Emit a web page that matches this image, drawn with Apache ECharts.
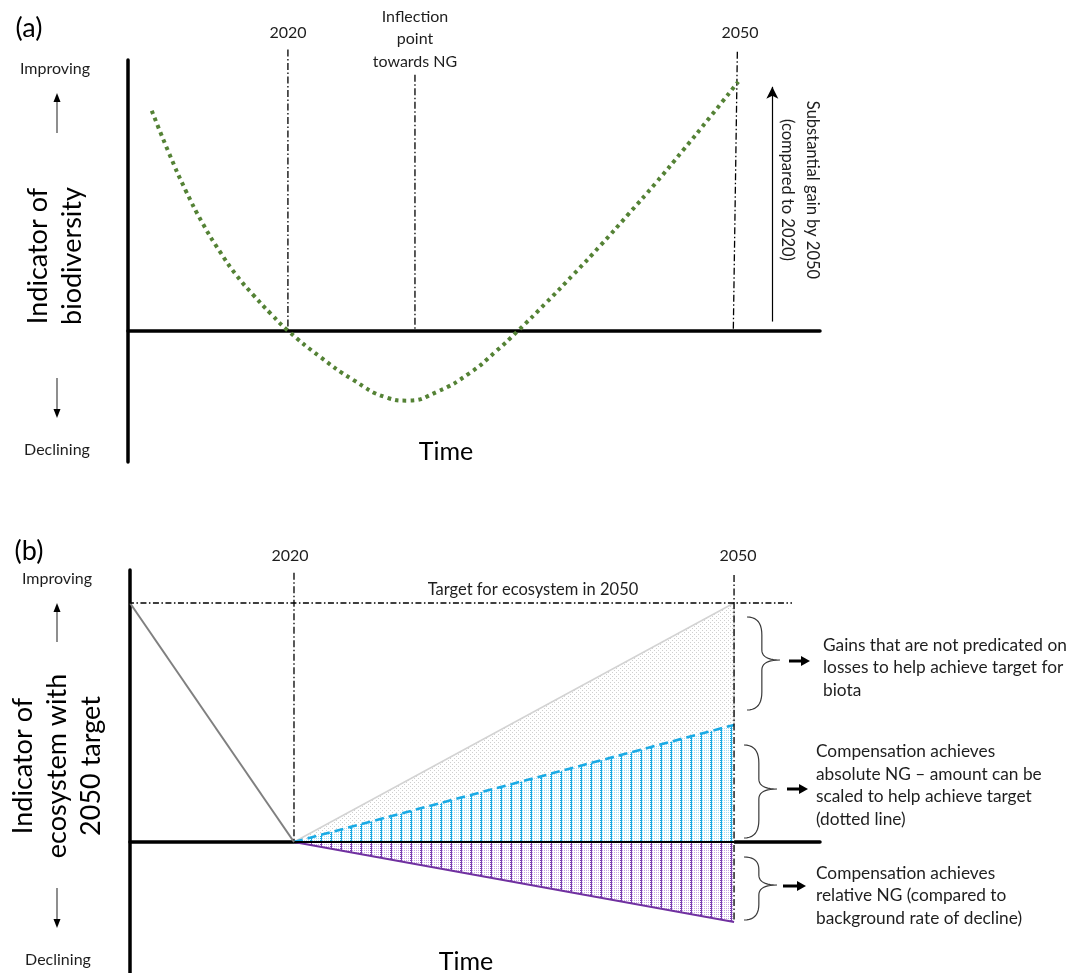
<!DOCTYPE html>
<html><head><meta charset="utf-8">
<script src="https://cdn.jsdelivr.net/npm/echarts@6/dist/echarts.min.js"></script>
<style>html,body{margin:0;padding:0;background:#fff}#c{width:1076px;height:973px}</style>
</head><body><div id="c"></div>
<script>
// ---------- Panel (a): biodiversity indicator trajectory ----------
const curveYears  = [2010.89, 2012.03, 2013.17, 2014.31, 2015.45, 2016.58, 2017.72, 2018.86, 2020.00,
                     2022.14, 2024.35, 2026.63, 2027.97, 2029.98, 2032.19, 2033.86, 2035.40,
                     2037.24, 2039.09, 2040.93, 2042.77, 2044.61, 2046.45, 2048.29, 2050.13];
const curveValues = [8.21, 6.64, 5.22, 3.99, 2.95, 2.05, 1.31, 0.63, 0.00,
                     -0.97, -1.83, -2.50, -2.61, -2.28, -1.57, -0.80, 0.00,
                     1.02, 2.09, 3.19, 4.34, 5.51, 6.74, 8.00, 9.29];
const yearTicksA = ['2020', '2050'];
const inflectionYear = 2028.5;
const inflectionLabel = 'Inflection\npoint\ntowards NG';

// ---------- Panel (b): ecosystem indicator with 2050 target ----------
const yearsB = [2020, 2050];
const historyYears = [2008.82, 2020];
const historyValues = [10, 0];
const targetValue = 10;
const targetGains = [0, 10];        // gains not predicated on losses (to target)
const absoluteNG = [0, 4.9];        // compensation achieves absolute NG
const relativeNG = [0, -3.35];      // compensation achieves relative NG
const yearTicksB = ['2020', '2050'];

const FONT = 'Lato';
const TXT = '#1e1e1e';

function pairs(xs, ys) { return xs.map((x, i) => [x, ys[i]]); }

function makePattern(w, h, draw) {
  const c = document.createElement('canvas'); c.width = w; c.height = h;
  const g = c.getContext('2d'); draw(g); return c;
}
const grayPat = makePattern(4, 4, g => {
  g.fillStyle = '#ffffff'; g.fillRect(0, 0, 4, 4);
  g.fillStyle = '#cfcfcf'; g.fillRect(0, 0, 1, 1); g.fillRect(2, 2, 1, 1);
});
const bluePat = makePattern(10, 4, g => {
  g.fillStyle = '#ffffff'; g.fillRect(0, 0, 10, 4);
  g.fillStyle = '#9fdcf5';
  for (let x = 0; x < 10; x += 2) for (let y = 0; y < 4; y += 2) g.fillRect(x, y, 1, 1);
  g.fillStyle = '#1aa9e2'; g.fillRect(0, 0, 2, 1); g.fillRect(0, 2, 2, 1); g.fillRect(1, 1, 1, 1); g.fillRect(1, 3, 1, 1);
});
const purplePat = makePattern(10, 4, g => {
  g.fillStyle = '#ffffff'; g.fillRect(0, 0, 10, 4);
  g.fillStyle = '#c5a4e2';
  for (let x = 0; x < 10; x += 2) for (let y = 0; y < 4; y += 2) g.fillRect(x, y, 1, 1);
  g.fillStyle = '#7b3fb3'; g.fillRect(0, 0, 2, 1); g.fillRect(0, 2, 2, 1); g.fillRect(1, 1, 1, 1); g.fillRect(1, 3, 1, 1);
});

const DASHDOT = [7, 2.5, 1.5, 2.5];
function refLine(gi, data, extra) {
  return Object.assign({
    type: 'line', xAxisIndex: gi, yAxisIndex: gi, data: data, symbol: 'none', clip: false, silent: true, z: 5,
    lineStyle: { color: '#000', width: 1.3, type: DASHDOT }
  }, extra || {});
}

function txt(x, y, text, size, o) {
  o = o || {};
  return {
    type: 'text', x: x, y: y, rotation: o.rot || 0, silent: true, z: 10,
    style: {
      text: text, x: 0, y: 0, fill: o.fill || TXT, fontSize: size, fontFamily: FONT,
      textAlign: o.align || 'center', align: o.align || 'center',
      textVerticalAlign: 'middle', verticalAlign: 'middle', lineHeight: o.lh || Math.round(size * 1.3)
    }
  };
}
function vArrow(x, yTail, yTip, color) {
  const dir = yTip < yTail ? 1 : -1;
  return [
    { type: 'line', silent: true, z: 10, shape: { x1: x, y1: yTail, x2: x, y2: yTip + dir * 7 }, style: { stroke: color, lineWidth: 1.2 } },
    { type: 'polygon', silent: true, z: 10, shape: { points: [[x, yTip], [x - 3.5, yTip + dir * 9], [x + 3.5, yTip + dir * 9]] }, style: { fill: '#000' } }
  ];
}
function hArrow(x1, x2, y) {
  return [
    { type: 'line', silent: true, z: 10, shape: { x1: x1, y1: y, x2: x2 - 6, y2: y }, style: { stroke: '#000', lineWidth: 3 } },
    { type: 'polygon', silent: true, z: 10, shape: { points: [[x2, y], [x2 - 9, y - 5], [x2 - 9, y + 5]] }, style: { fill: '#000' } }
  ];
}
// curly brace "}" sampled from quadratic segments
function quad(p0, c, p1, n) {
  const out = [];
  for (let i = 1; i <= n; i++) {
    const t = i / n, u = 1 - t;
    out.push([u * u * p0[0] + 2 * u * t * c[0] + t * t * p1[0], u * u * p0[1] + 2 * u * t * c[1] + t * t * p1[1]]);
  }
  return out;
}
function brace(xl, xr, y1, y2, ym) {
  const xm = xl + (xr - xl) * 0.45;
  const r1 = Math.min(18, (ym - y1) * 0.45), r2 = Math.min(18, (y2 - ym) * 0.45), rt = 10;
  let pts = [[xl, y1]];
  pts = pts.concat(quad([xl, y1], [xm, y1], [xm, y1 + r1], 10));
  pts.push([xm, ym - rt]);
  pts = pts.concat(quad([xm, ym - rt], [xm, ym], [xr, ym], 10));
  pts = pts.concat(quad([xr, ym], [xm, ym], [xm, ym + rt], 10));
  pts.push([xm, y2 - r2]);
  pts = pts.concat(quad([xm, y2 - r2], [xm, y2], [xl, y2], 10));
  return { type: 'polyline', silent: true, z: 10, shape: { points: pts }, style: { fill: null, stroke: '#3a3a3a', lineWidth: 1.2 } };
}

const hiddenAxisBits = { axisTick: { show: false }, axisLabel: { show: false }, splitLine: { show: false } };
const axisStroke = { color: '#000', width: 3.5 };

const option = {
  animation: false,
  backgroundColor: '#fff',
  grid: [
    { left: 128, top: 60, width: 692, height: 402 },
    { left: 130, top: 570, width: 690, height: 403 }
  ],
  xAxis: [
    Object.assign({ gridIndex: 0, type: 'value', min: 2009.3, max: 2055.6, axisLine: { show: true, onZero: true, lineStyle: axisStroke } }, hiddenAxisBits),
    Object.assign({ gridIndex: 1, type: 'value', min: 2008.82, max: 2055.86, axisLine: { show: true, onZero: true, lineStyle: axisStroke } }, hiddenAxisBits)
  ],
  yAxis: [
    Object.assign({ gridIndex: 0, type: 'value', min: -4.9, max: 10.1, axisLine: { show: true, onZero: false, lineStyle: axisStroke } }, hiddenAxisBits),
    Object.assign({ gridIndex: 1, type: 'value', min: -5.48, max: 11.38, axisLine: { show: true, onZero: false, lineStyle: axisStroke } }, hiddenAxisBits)
  ],
  series: [
    // ---- panel (a)
    refLine(0, [[2020, 10.49], [2020, 0]]),
    refLine(0, [[inflectionYear, 9.55], [inflectionYear, 0]]),
    refLine(0, [[2050.07, 10.41], [2049.8, 0]]),
    {
      type: 'line', xAxisIndex: 0, yAxisIndex: 0, data: pairs(curveYears, curveValues), smooth: 0.5,
      symbol: 'none', silent: true, z: 6, clip: false,
      lineStyle: { color: '#548235', width: 4, type: [3.6, 4.2], cap: 'butt' },
      markLine: {
        silent: true, symbol: ['none', 'arrow'], symbolSize: [9, 12], animation: false,
        label: { show: false }, lineStyle: { color: '#000', width: 1.2, type: 'solid' },
        emphasis: { disabled: true },
        data: [[{ coord: [2052.41, 0.34] }, { coord: [2052.41, 9.1] }]]
      }
    },
    // ---- panel (b)
    {
      type: 'line', xAxisIndex: 1, yAxisIndex: 1, data: pairs(yearsB, targetGains).concat([[yearsB[1], absoluteNG[1]]]),
      symbol: 'none', silent: true, z: 2,
      lineStyle: { color: '#d3d3d3', width: 1.5 },
      areaStyle: { color: { image: grayPat, repeat: 'repeat' }, opacity: 1 }
    },
    {
      type: 'line', xAxisIndex: 1, yAxisIndex: 1, data: pairs(yearsB, absoluteNG),
      symbol: 'none', silent: true, z: 3,
      lineStyle: { color: '#1aaae4', width: 2.6, type: [9, 5] },
      areaStyle: { color: { image: bluePat, repeat: 'repeat' }, opacity: 1 }
    },
    {
      type: 'line', xAxisIndex: 1, yAxisIndex: 1, data: pairs(yearsB, relativeNG),
      symbol: 'none', silent: true, z: 3,
      lineStyle: { color: '#7030a0', width: 2 },
      areaStyle: { color: { image: purplePat, repeat: 'repeat' }, opacity: 1 }
    },
    {
      type: 'line', xAxisIndex: 1, yAxisIndex: 1, data: pairs(yearsB, [0, 0]),
      symbol: 'none', silent: true, z: 4, lineStyle: { color: '#000', width: 1.8 }
    },
    {
      type: 'line', xAxisIndex: 1, yAxisIndex: 1, data: pairs(historyYears, historyValues),
      symbol: 'none', silent: true, z: 4, lineStyle: { color: '#808080', width: 2 }
    },
    refLine(1, [[2008.68, targetValue], [2053.95, targetValue]], { lineStyle: { color: '#000', width: 1.3, type: [6, 2.5, 1.5, 2.5] } }),
    refLine(1, [[2020, 11.26], [2020, 0]]),
    refLine(1, [[2050, 11.17], [2050, relativeNG[1]]])
  ],
  graphic: {
    elements: [
      // panel (a)
      txt(29, 28, '(a)', 27, { fill: '#000' }),
      txt(288, 33, yearTicksA[0], 16),
      txt(740, 33, yearTicksA[1], 16),
      txt(415, 39, inflectionLabel, 16, { lh: 22.5 }),
      txt(55, 69, 'Improving', 16),
      txt(57, 450, 'Declining', 16),
      ...vArrow(57, 133, 93, '#444'),
      ...vArrow(57, 378, 418, '#444'),
      txt(55, 256, 'Indicator of\nbiodiversity', 27, { rot: Math.PI / 2, lh: 34, fill: '#000' }),
      txt(446, 452, 'Time', 25, { fill: '#000' }),
      txt(800, 190, 'Substantial gain by 2050\n(compared to 2020)', 16.5, { rot: -Math.PI / 2, lh: 25 }),
      // panel (b)
      txt(29, 551, '(b)', 27, { fill: '#000' }),
      txt(290, 556, yearTicksB[0], 16),
      txt(738, 556, yearTicksB[1], 16),
      txt(533, 590, 'Target for ecosystem in 2050', 16.5),
      txt(57, 579, 'Improving', 16),
      txt(58, 960, 'Declining', 16),
      ...vArrow(57, 642, 603, '#444'),
      ...vArrow(57, 888, 928, '#444'),
      txt(57, 766, 'Indicator of\necosystem with\n2050 target', 27, { rot: Math.PI / 2, lh: 34, fill: '#000' }),
      txt(466, 962, 'Time', 25, { fill: '#000' }),
      brace(747, 780, 617, 710, 660),
      brace(744, 777, 745, 838, 789),
      brace(744, 777, 857, 920, 885),
      ...hArrow(789, 810, 661),
      ...hArrow(787, 808, 789),
      ...hArrow(783, 806, 886),
      txt(823, 667.5, 'Gains that are not predicated on\nlosses to help achieve target for\nbiota', 17.3, { align: 'left', lh: 22.5 }),
      txt(816, 785.5, 'Compensation achieves\nabsolute NG \u2013 amount can be\nscaled to help achieve target\n(dotted line)', 17.3, { align: 'left', lh: 22.4 }),
      txt(816, 895.5, 'Compensation achieves\nrelative NG (compared to\nbackground rate of decline)', 17.3, { align: 'left', lh: 22.5 })
    ]
  }
};

const chart = echarts.init(document.getElementById('c'), null, { renderer: 'canvas' });
chart.setOption(option);
</script>
</body></html>
